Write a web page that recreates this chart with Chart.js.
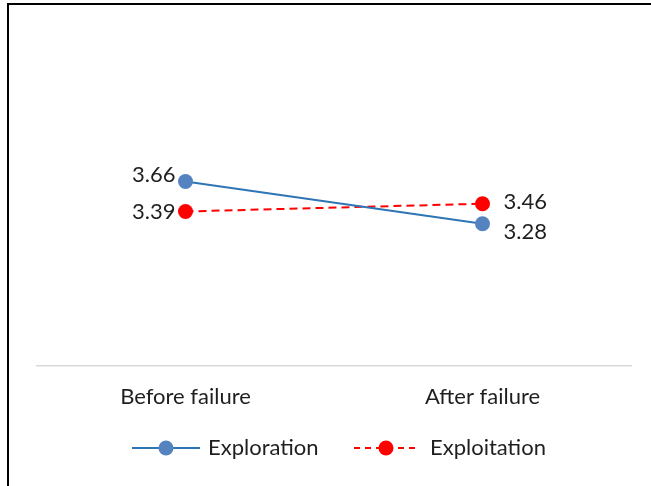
<!DOCTYPE html>
<html>
<head>
<meta charset="utf-8">
<script src="https://cdn.jsdelivr.net/npm/chart.js@4/dist/chart.umd.min.js"></script>
<style>
  html, body { margin: 0; padding: 0; background: #fff; overflow: hidden; }
  canvas { display: block; }
</style>
</head>
<body>
<canvas id="c" width="651" height="486"></canvas>
<script>
// Mean scores before and after failure
const categories = ['Before failure', 'After failure'];
const exploration = [3.66, 3.28];
const exploitation = [3.39, 3.46];
const seriesNames = ['Exploration', 'Exploitation'];

const FONT = 'Lato, "Open Sans", "Liberation Sans", sans-serif';
const TEXT = '#1f1f1f';
const FONT_SIZE = 22;

// Value labels: first point to the left, second point to the right
const labelOffsets = [
  [{ dx: -10, dy: -7, align: 'right' }, { dx: 21, dy: 8, align: 'left' }],
  [{ dx: -10, dy: 0, align: 'right' }, { dx: 21, dy: -2, align: 'left' }]
];

const valueLabels = {
  id: 'valueLabels',
  afterDatasetsDraw(chart) {
    const ctx = chart.ctx;
    ctx.save();
    ctx.font = FONT_SIZE + 'px ' + FONT;
    ctx.fillStyle = TEXT;
    ctx.textBaseline = 'middle';
    chart.data.datasets.forEach((ds, di) => {
      const meta = chart.getDatasetMeta(di);
      meta.data.forEach((pt, i) => {
        const o = labelOffsets[di][i];
        ctx.textAlign = o.align;
        ctx.fillText(ds.data[i].toFixed(2), pt.x + o.dx, pt.y + o.dy);
      });
    });
    ctx.restore();
  }
};

// Legend entries drawn as line + marker + name
const lineLegend = {
  id: 'lineLegend',
  afterDraw(chart) {
    const ctx = chart.ctx;
    const y = 448;
    const entries = [{ x0: 132, x1: 200, gap: 8 }, { x0: 354, x1: 418, gap: 12 }];
    ctx.save();
    chart.data.datasets.forEach((ds, di) => {
      const e = entries[di];
      ctx.beginPath();
      ctx.setLineDash(di === 1 ? [6, 5] : []);
      ctx.strokeStyle = ds.borderColor;
      ctx.lineWidth = 2;
      ctx.moveTo(e.x0, y);
      ctx.lineTo(e.x1, y);
      ctx.stroke();
      ctx.setLineDash([]);
      ctx.beginPath();
      ctx.fillStyle = ds.pointBackgroundColor;
      ctx.arc((e.x0 + e.x1) / 2, y, 7.5, 0, Math.PI * 2);
      ctx.fill();
      ctx.font = FONT_SIZE + 'px ' + FONT;
      ctx.fillStyle = TEXT;
      ctx.textAlign = 'left';
      ctx.textBaseline = 'middle';
      ctx.fillText(ds.label, e.x1 + e.gap, y);
    });
    ctx.restore();
  }
};

// Chart frame: top and left edges only
const frameEdges = {
  id: 'frameEdges',
  afterDraw(chart) {
    const ctx = chart.ctx;
    ctx.save();
    ctx.fillStyle = '#000';
    ctx.fillRect(7, 3, chart.width - 7, 2);
    ctx.fillRect(7, 3, 2, chart.height - 3);
    ctx.restore();
  }
};

new Chart(document.getElementById('c'), {
  type: 'line',
  data: {
    labels: categories,
    datasets: [
      {
        label: seriesNames[0],
        data: exploration,
        borderColor: '#2e75b6',
        borderWidth: 2,
        pointBackgroundColor: '#5583c0',
        pointBorderColor: '#5583c0',
        pointRadius: 7.5,
        pointBorderWidth: 0,
        tension: 0
      },
      {
        label: seriesNames[1],
        data: exploitation,
        borderColor: '#ff0000',
        borderWidth: 2,
        borderDash: [8, 5],
        pointBackgroundColor: '#ff0000',
        pointBorderColor: '#ff0000',
        pointRadius: 7.5,
        pointBorderWidth: 0,
        tension: 0
      }
    ]
  },
  options: {
    responsive: false,
    animation: false,
    layout: { padding: { top: 33, left: 37, right: 20, bottom: 66 } },
    plugins: { legend: { display: false }, tooltip: { enabled: false } },
    scales: {
      x: {
        offset: true,
        grid: { display: false },
        border: { display: true, color: '#d9d9d9', width: 1.5 },
        ticks: { color: TEXT, font: { family: FONT, size: FONT_SIZE }, padding: 10 }
      },
      y: {
        display: false,
        min: 2,
        max: 5
      }
    }
  },
  plugins: [valueLabels, lineLegend, frameEdges]
});
</script>
</body>
</html>
